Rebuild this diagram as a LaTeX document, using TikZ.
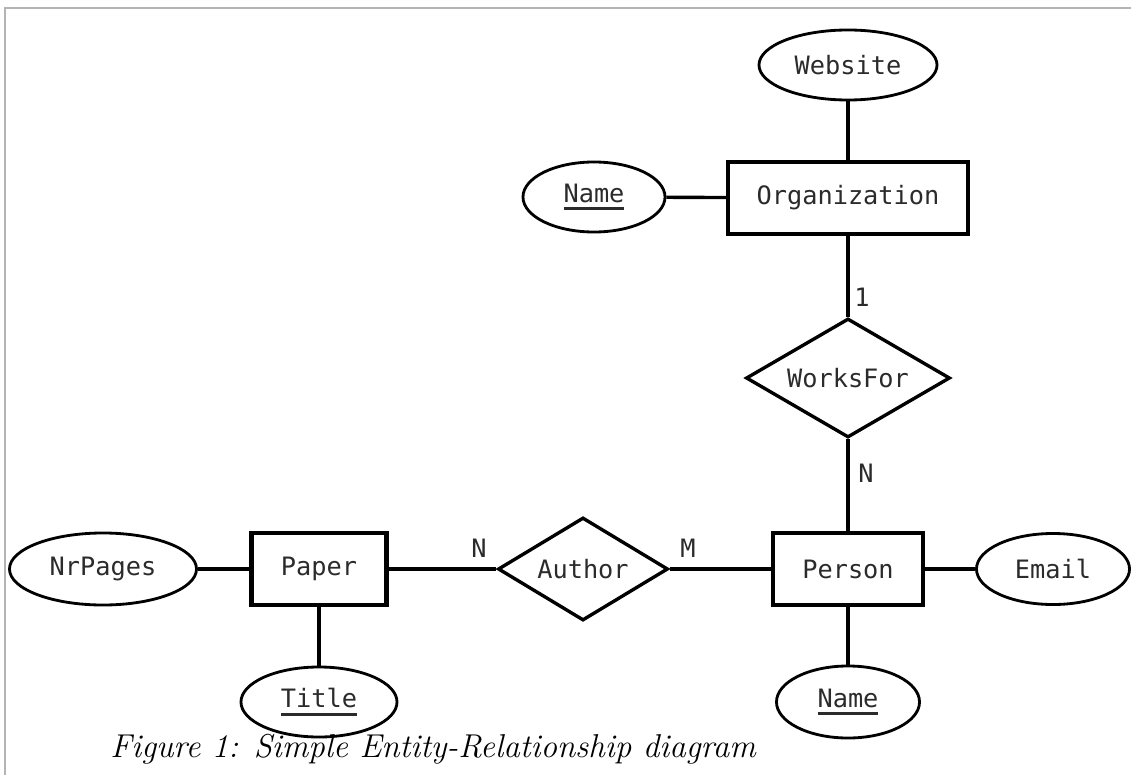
\documentclass[tikz,border=0pt]{standalone}
\usepackage{fontspec}
\usepackage{xcolor}
\usepackage{tikz}
\usetikzlibrary{shapes.geometric}
\newfontfamily\ermono{DejaVu Sans Mono}
\definecolor{ink}{HTML}{000000}
\definecolor{lbl}{HTML}{2B2B2B}
\definecolor{frame}{HTML}{B4B4B4}
\tikzset{
  entityBox/.style={draw=ink, rectangle, line width=2.9pt, inner sep=0pt, text=lbl, font=\ermono\fontsize{18}{20}\selectfont},
  relDiamond/.style={draw=ink, diamond, aspect=1.7, line width=2.4pt, inner sep=0pt, text=lbl, font=\ermono\fontsize{18}{20}\selectfont},
  attrOval/.style={draw=ink, ellipse, line width=2pt, inner sep=0pt, text=lbl, font=\ermono\fontsize{18}{20}\selectfont},
  link/.style={draw=ink, line width=2.4pt},
  cardLbl/.style={text=lbl, inner sep=0pt, font=\ermono\fontsize{18}{20}\selectfont},
  captionLbl/.style={text=black, inner sep=0pt, anchor=west, font=\fontsize{23.5}{27}\selectfont\itshape},
  frameLine/.style={draw=frame, line width=0.8pt},
}
\newcommand{\keyattr}[1]{\setbox0=\hbox{#1}\rlap{\rule[-5.6pt]{\wd0}{2.1pt}}\box0}

\begin{document}
\begin{tikzpicture}[x=0.025cm, y=-0.025cm]
  \useasboundingbox (0,0) rectangle (1131,775);
  \draw[frameLine] (5,775) -- (5,8) -- (1131,8);

  % organization side
  \node[attrOval, minimum width=4.45cm, minimum height=1.75cm] (website) at (848,65) {Website};
  \node[entityBox, minimum width=6cm, minimum height=1.8cm] (org) at (848,198) {Organization};
  \node[attrOval, minimum width=3.55cm, minimum height=1.75cm] (orgName) at (594,197) {\keyattr{Name}};
  \node[relDiamond, minimum width=5.1cm, minimum height=2.975cm] (worksFor) at (848,378) {WorksFor};

  % person side
  \node[entityBox, minimum width=3.75cm, minimum height=1.8cm] (person) at (848,569) {Person};
  \node[attrOval, minimum width=3.825cm, minimum height=1.775cm] (email) at (1053,569) {Email};
  \node[attrOval, minimum width=3.575cm, minimum height=1.8cm] (personName) at (848,702) {\keyattr{Name}};

  % paper side
  \node[entityBox, minimum width=3.375cm, minimum height=1.8cm] (paper) at (319,569) {Paper};
  \node[attrOval, minimum width=4.675cm, minimum height=1.8cm] (nrPages) at (103,569) {NrPages};
  \node[attrOval, minimum width=3.9cm, minimum height=1.75cm] (title) at (319,702) {\keyattr{Title}};
  \node[relDiamond, minimum width=4.25cm, minimum height=2.575cm] (author) at (583,569) {Author};

  \draw[link] (website) -- (org);
  \draw[link] (orgName) -- (org);
  \draw[link] (org) -- (worksFor);
  \draw[link] (worksFor) -- (person);
  \draw[link] (person) -- (email);
  \draw[link] (person) -- (personName);
  \draw[link] (nrPages) -- (paper);
  \draw[link] (paper) -- (title);
  \draw[link] (paper) -- (author);
  \draw[link] (author) -- (person);

  \node[cardLbl] (cardOrg) at (862,297) {1};
  \node[cardLbl] (cardPerson) at (866,473) {N};
  \node[cardLbl] (cardPaper) at (479,548) {N};
  \node[cardLbl] (cardAuthor) at (688,548) {M};

  \node[captionLbl] (caption) at (110,749) {Figure 1: Simple Entity-Relationship diagram};
\end{tikzpicture}
\end{document}
